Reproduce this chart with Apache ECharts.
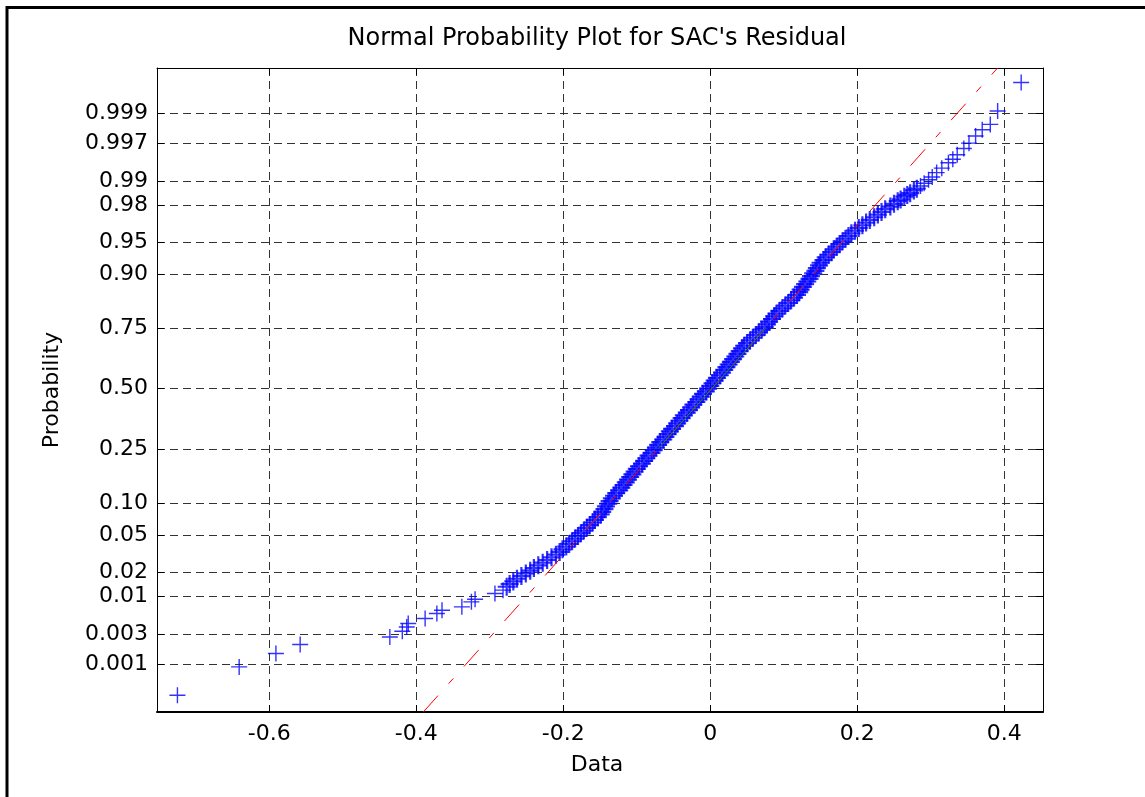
<!DOCTYPE html>
<html>
<head>
<meta charset="utf-8">
<title>Normal Probability Plot for SAC's Residual</title>
<script src="https://cdn.jsdelivr.net/npm/echarts@6/dist/echarts.min.js"></script>
<style>
  html, body { margin: 0; padding: 0; background: #fff; }
  #chart { width: 1145px; height: 797px; }
</style>
</head>
<body>
<div id="chart"></div>
<script>
// probability ticks (placed on a normal quantile scale)
var probTicks = [0.001, 0.003, 0.01, 0.02, 0.05, 0.10, 0.25, 0.50, 0.75, 0.90, 0.95, 0.98, 0.99, 0.997, 0.999]
var probLabels = ['0.001', '0.003', '0.01', '0.02', '0.05', '0.10', '0.25', '0.50', '0.75', '0.90', '0.95', '0.98', '0.99', '0.997', '0.999']
var dataTicks = [-0.6, -0.4, -0.2, 0, 0.2, 0.4]

// axis limits (x in data units, y in normal quantiles)
var xMin = -0.7528, xMax = 0.4527
var zMin = -3.623, zMax = 3.592

// sorted residuals and the normal quantile they are plotted at
var quantiles = [
  -3.436, -3.118, -2.968, -2.867, -2.782, -2.718, -2.670, -2.632, -2.576, -2.520,
  -2.483, -2.445, -2.389, -2.360, -2.295, -2.258, -2.22, -2.19, -2.16, -2.13,
  -2.10, -2.07, -2.04, -2.01, -1.98, -1.95, -1.92, -1.89, -1.86, -1.83,
  -1.80, -1.77, -1.74, -1.71, -1.68, -1.65, -1.62, -1.59, -1.56, -1.53,
  -1.50, -1.47, -1.44, -1.41, -1.38, -1.35, -1.32, -1.29, -1.26, -1.23,
  -1.20, -1.17, -1.14, -1.11, -1.08, -1.05, -1.02, -0.99, -0.96, -0.93,
  -0.90, -0.87, -0.84, -0.81, -0.78, -0.75, -0.72, -0.69, -0.66, -0.63,
  -0.60, -0.57, -0.54, -0.51, -0.48, -0.45, -0.42, -0.39, -0.36, -0.33,
  -0.30, -0.27, -0.24, -0.21, -0.18, -0.15, -0.12, -0.09, -0.06, -0.03,
  0.00, 0.03, 0.06, 0.09, 0.12, 0.15, 0.18, 0.21, 0.24, 0.27,
  0.30, 0.33, 0.36, 0.39, 0.42, 0.45, 0.48, 0.51, 0.54, 0.57,
  0.60, 0.63, 0.66, 0.69, 0.72, 0.75, 0.78, 0.81, 0.84, 0.87,
  0.90, 0.93, 0.96, 0.99, 1.02, 1.05, 1.08, 1.11, 1.14, 1.17,
  1.20, 1.23, 1.26, 1.29, 1.32, 1.35, 1.38, 1.41, 1.44, 1.47,
  1.50, 1.53, 1.56, 1.59, 1.62, 1.65, 1.68, 1.71, 1.74, 1.77,
  1.80, 1.83, 1.86, 1.89, 1.92, 1.95, 1.98, 2.01, 2.04, 2.07,
  2.10, 2.12, 2.15, 2.17, 2.19, 2.22, 2.24, 2.27, 2.30, 2.34,
  2.37, 2.42, 2.47, 2.53, 2.57, 2.62, 2.69, 2.75, 2.83, 2.90,
  2.96, 3.11, 3.43
]
var residuals = [
  -0.725, -0.641, -0.591, -0.558, -0.436, -0.419, -0.413, -0.411, -0.388, -0.372,
  -0.365, -0.338, -0.325, -0.320, -0.293, -0.282, -0.277, -0.273, -0.268, -0.263,
  -0.257, -0.251, -0.245, -0.240, -0.234, -0.228, -0.222, -0.216, -0.210, -0.205,
  -0.201, -0.196, -0.192, -0.188, -0.184, -0.180, -0.176, -0.172, -0.168, -0.164,
  -0.160, -0.157, -0.153, -0.149, -0.147, -0.144, -0.142, -0.139, -0.137, -0.134,
  -0.131, -0.128, -0.124, -0.121, -0.118, -0.115, -0.112, -0.109, -0.106, -0.103,
  -0.100, -0.097, -0.093, -0.090, -0.087, -0.084, -0.080, -0.077, -0.074, -0.071,
  -0.068, -0.064, -0.061, -0.058, -0.055, -0.052, -0.048, -0.045, -0.042, -0.039,
  -0.036, -0.032, -0.029, -0.026, -0.023, -0.019, -0.016, -0.013, -0.010, -0.006,
  -0.003, 0.000, 0.003, 0.006, 0.009, 0.013, 0.016, 0.019, 0.022, 0.025,
  0.028, 0.031, 0.034, 0.037, 0.040, 0.043, 0.046, 0.050, 0.054, 0.058,
  0.062, 0.066, 0.070, 0.074, 0.077, 0.080, 0.084, 0.087, 0.090, 0.094,
  0.098, 0.102, 0.106, 0.110, 0.114, 0.118, 0.121, 0.123, 0.126, 0.129,
  0.132, 0.135, 0.137, 0.140, 0.143, 0.145, 0.148, 0.150, 0.154, 0.157,
  0.161, 0.165, 0.168, 0.172, 0.176, 0.180, 0.184, 0.188, 0.192, 0.197,
  0.202, 0.207, 0.212, 0.217, 0.223, 0.228, 0.233, 0.238, 0.245, 0.250,
  0.255, 0.259, 0.264, 0.268, 0.272, 0.277, 0.281, 0.286, 0.291, 0.297,
  0.302, 0.308, 0.315, 0.324, 0.330, 0.336, 0.345, 0.352, 0.361, 0.370,
  0.381, 0.391, 0.423
]

// fitted line (dash-dot, whole range) and its solid part between the quartiles
var refX = [-0.3904, 0.3909]
var refZ = [-3.623, 3.592]
var quartX = [-0.0711, 0.0750]
var quartZ = [-0.6745, 0.6745]

// inverse normal cdf (Acklam), used for the probability axis
function norminv(p) {
  var a = [-3.969683028665376e+01, 2.209460984245205e+02, -2.759285104469687e+02, 1.383577518672690e+02, -3.066479806614716e+01, 2.506628277459239e+00]
  var b = [-5.447609879822406e+01, 1.615858368580409e+02, -1.556989798598866e+02, 6.680131188771972e+01, -1.328068155288572e+01]
  var c = [-7.784894002430293e-03, -3.223964580411365e-01, -2.400758277161838e+00, -2.549732539343734e+00, 4.374664141464968e+00, 2.938163982698783e+00]
  var d = [7.784695709041462e-03, 3.224671290700398e-01, 2.445134137142996e+00, 3.754408661907416e+00]
  var pl = 0.02425, q, r
  if (p < pl) {
    q = Math.sqrt(-2 * Math.log(p))
    return (((((c[0] * q + c[1]) * q + c[2]) * q + c[3]) * q + c[4]) * q + c[5]) / ((((d[0] * q + d[1]) * q + d[2]) * q + d[3]) * q + 1)
  }
  if (p > 1 - pl) {
    q = Math.sqrt(-2 * Math.log(1 - p))
    return -(((((c[0] * q + c[1]) * q + c[2]) * q + c[3]) * q + c[4]) * q + c[5]) / ((((d[0] * q + d[1]) * q + d[2]) * q + d[3]) * q + 1)
  }
  q = p - 0.5
  r = q * q
  return (((((a[0] * r + a[1]) * r + a[2]) * r + a[3]) * r + a[4]) * r + a[5]) * q / (((((b[0] * r + b[1]) * r + b[2]) * r + b[3]) * r + b[4]) * r + 1)
}

var tickZ = probTicks.map(norminv)

function probLabel(v) {
  var best = 0
  for (var i = 1; i < tickZ.length; i++) {
    if (Math.abs(tickZ[i] - v) < Math.abs(tickZ[best] - v)) best = i
  }
  return probLabels[best]
}

var points = residuals.map(function (x, i) { return [x, quantiles[i]] })
var refLine = refX.map(function (x, i) { return [x, refZ[i]] })
var quartLine = quartX.map(function (x, i) { return [x, quartZ[i]] })

var FONT = 'DejaVu Sans'
// '+' markers: the crowded middle is drawn a bit heavier, like the overplotted original
var plus = 'path://M0,7.3H16V8.7H0Z M7.3,0H8.7V16H7.3Z'
var plusBold = 'path://M0,7.9H18V10.1H0Z M7.9,0H10.1V18H7.9Z'
var gridDash = { color: '#333', width: 1, type: [8, 5] }

var chart = echarts.init(document.getElementById('chart'))
chart.setOption({
  animation: false,
  backgroundColor: '#fff',
  textStyle: { fontFamily: FONT },
  grid: { left: 157, top: 68, width: 886, height: 644 },
  graphic: [
    {
      type: 'polyline', silent: true,
      shape: { points: [[7, 797], [7, 7.5], [1145, 7.5]] },
      style: { stroke: '#000', lineWidth: 3, fill: null }
    },
    {
      type: 'text', x: 597, y: 39,
      style: { text: "Normal Probability Plot for SAC's Residual", font: '24px "DejaVu Sans"', fill: '#000', align: 'center', verticalAlign: 'middle' }
    },
    {
      type: 'text', x: 597, y: 765,
      style: { text: 'Data', font: '22px "DejaVu Sans"', fill: '#000', align: 'center', verticalAlign: 'middle' }
    },
    {
      type: 'text', x: 52, y: 390, rotation: Math.PI / 2,
      style: { text: 'Probability', font: '22px "DejaVu Sans"', fill: '#000', align: 'center', verticalAlign: 'middle' }
    }
  ],
  xAxis: [
    {
      type: 'value', min: xMin, max: xMax, position: 'bottom',
      axisLine: { show: true, onZero: false, lineStyle: { color: '#000', width: 2 } },
      axisTick: { show: true, inside: true, length: 7, customValues: dataTicks, lineStyle: { color: '#000' } },
      axisLabel: {
        customValues: dataTicks, color: '#000', fontSize: 22, fontFamily: FONT, margin: 11,
        formatter: function (v) { return v === 0 ? '0' : String(v) }
      },
      splitLine: { show: true, lineStyle: gridDash }
    },
    {
      type: 'value', min: xMin, max: xMax, position: 'top',
      axisLine: { show: true, onZero: false, lineStyle: { color: '#000', width: 1 } },
      axisTick: { show: true, inside: true, length: 7, customValues: dataTicks, lineStyle: { color: '#000' } },
      axisLabel: { show: false },
      splitLine: { show: false }
    }
  ],
  yAxis: [
    {
      type: 'value', min: zMin, max: zMax, position: 'left',
      axisLine: { show: true, onZero: false, lineStyle: { color: '#000', width: 1 } },
      axisTick: { show: true, inside: true, length: 7, customValues: tickZ, lineStyle: { color: '#000' } },
      axisLabel: {
        customValues: tickZ, color: '#000', fontSize: 22, fontFamily: FONT, margin: 9,
        formatter: probLabel
      },
      splitLine: { show: true, lineStyle: gridDash }
    },
    {
      type: 'value', min: zMin, max: zMax, position: 'right',
      axisLine: { show: true, onZero: false, lineStyle: { color: '#000', width: 1 } },
      axisTick: { show: true, inside: true, length: 7, customValues: tickZ, lineStyle: { color: '#000' } },
      axisLabel: { show: false },
      splitLine: { show: false }
    }
  ],
  series: [
    {
      type: 'scatter', xAxisIndex: 0, yAxisIndex: 0,
      data: points,
      symbol: function (v) { return Math.abs(v[1]) < 2.25 ? plusBold : plus },
      symbolSize: function (v) { return Math.abs(v[1]) < 2.25 ? 18 : 16 },
      itemStyle: { color: '#0000ff' }, z: 2, silent: true
    },
    {
      type: 'line', xAxisIndex: 0, yAxisIndex: 0,
      data: refLine, symbol: 'none',
      lineStyle: { color: '#ff0000', width: 1, type: [22, 16, 7, 16] }, z: 3, silent: true
    },
    {
      type: 'line', xAxisIndex: 0, yAxisIndex: 0,
      data: quartLine, symbol: 'none',
      lineStyle: { color: '#1d8a1d', width: 1 }, z: 4, silent: true
    }
  ]
})
</script>
</body>
</html>
